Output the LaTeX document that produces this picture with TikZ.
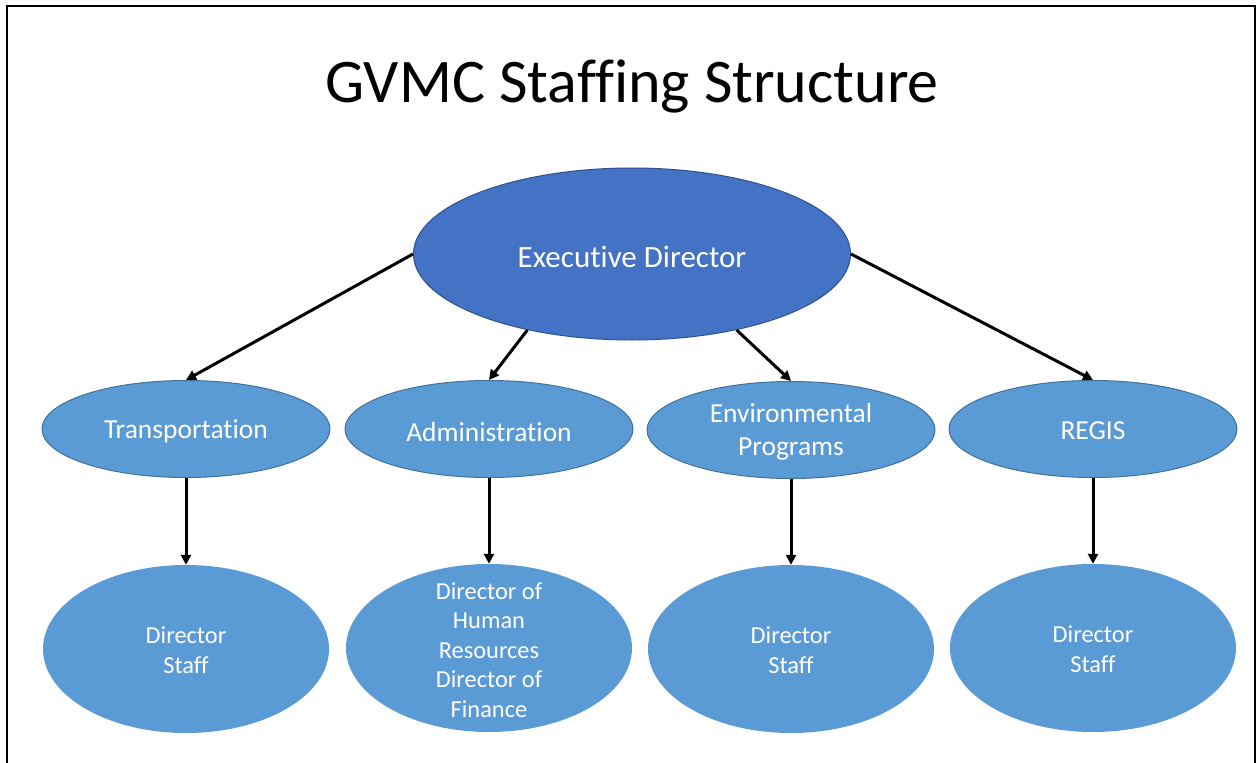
\documentclass[tikz,border=0pt]{standalone}
\usepackage{fontspec}
\setmainfont{Carlito}[Ligatures=NoCommon]
\usetikzlibrary{shapes.geometric,arrows.meta}
\definecolor{edfill}{HTML}{4472C4}
\definecolor{eddraw}{HTML}{2F528F}
\definecolor{unitfill}{HTML}{5B9BD5}
\definecolor{unitdraw}{HTML}{41719C}
\tikzset{
  exec/.style={ellipse, fill=edfill, draw=eddraw, line width=1bp, minimum width=437bp, minimum height=172bp, inner sep=0pt},
  unit/.style={ellipse, fill=unitfill, draw=unitdraw, line width=1bp, minimum width=288bp, minimum height=97bp, inner sep=0pt},
  staff/.style={ellipse, fill=unitfill, minimum width=286bp, minimum height=168bp, inner sep=0pt},
  lbl/.style={text=white, align=center, inner sep=0pt},
  link/.style={line width=3bp, -{Triangle[length=10bp,width=10bp]}},
  frame/.style={line width=2bp}
}
\begin{document}
\begin{tikzpicture}[x=1bp,y=-1bp]
\useasboundingbox (0,0) rectangle (1257,763);
\draw[frame] (7,770) -- (7,6) -- (1255,6) -- (1255,770);
\node[anchor=base, inner sep=0pt, font=\fontsize{62bp}{74bp}\selectfont] (title) at (632,103) {GVMC Staffing Structure};

\node[exec] (ed) at (632,254) {};
\node[lbl, anchor=base, font=\fontsize{31bp}{37bp}\selectfont] (edt) at (632,267) {Executive Director};

\node[unit] (tr) at (186,429) {};
\node[unit] (ad) at (489,429) {};
\node[unit] (en) at (791,430) {};
\node[unit] (rg) at (1093,429) {};
\begin{scope}[every node/.append style={lbl, font=\fontsize{27.5bp}{33.5bp}\selectfont}]
\node (trt) at (186,431) {Transportation};
\node (adt) at (489,432) {Administration};
\node (ent) at (791,432) {Environmental\\Programs};
\node (rgt) at (1093,431) {REGIS};
\end{scope}

\node[staff] (trs) at (186,649) {};
\node[staff] (ads) at (489,648) {};
\node[staff] (ens) at (791,649) {};
\node[staff] (rgs) at (1093,648) {};
\begin{scope}[every node/.append style={lbl, font=\fontsize{24.4bp}{29.5bp}\selectfont}]
\node (trst) at (186,650) {Director\\Staff};
\node (adst) at (489,650) {Director of\\Human\\Resources\\Director of\\Finance};
\node (enst) at (791,650) {Director\\Staff};
\node (rgst) at (1093,649) {Director\\Staff};
\end{scope}

\draw[link] (ed.west) -- (tr.north);
\draw[link] (ed.216) -- (ad.north);
\draw[link] (ed.324) -- (en.north);
\draw[link] (ed.east) -- (rg.north);

\draw[link] (tr.south) -- (trs.north);
\draw[link] (ad.south) -- (ads.north);
\draw[link] (en.south) -- (ens.north);
\draw[link] (rg.south) -- (rgs.north);
\end{tikzpicture}
\end{document}
